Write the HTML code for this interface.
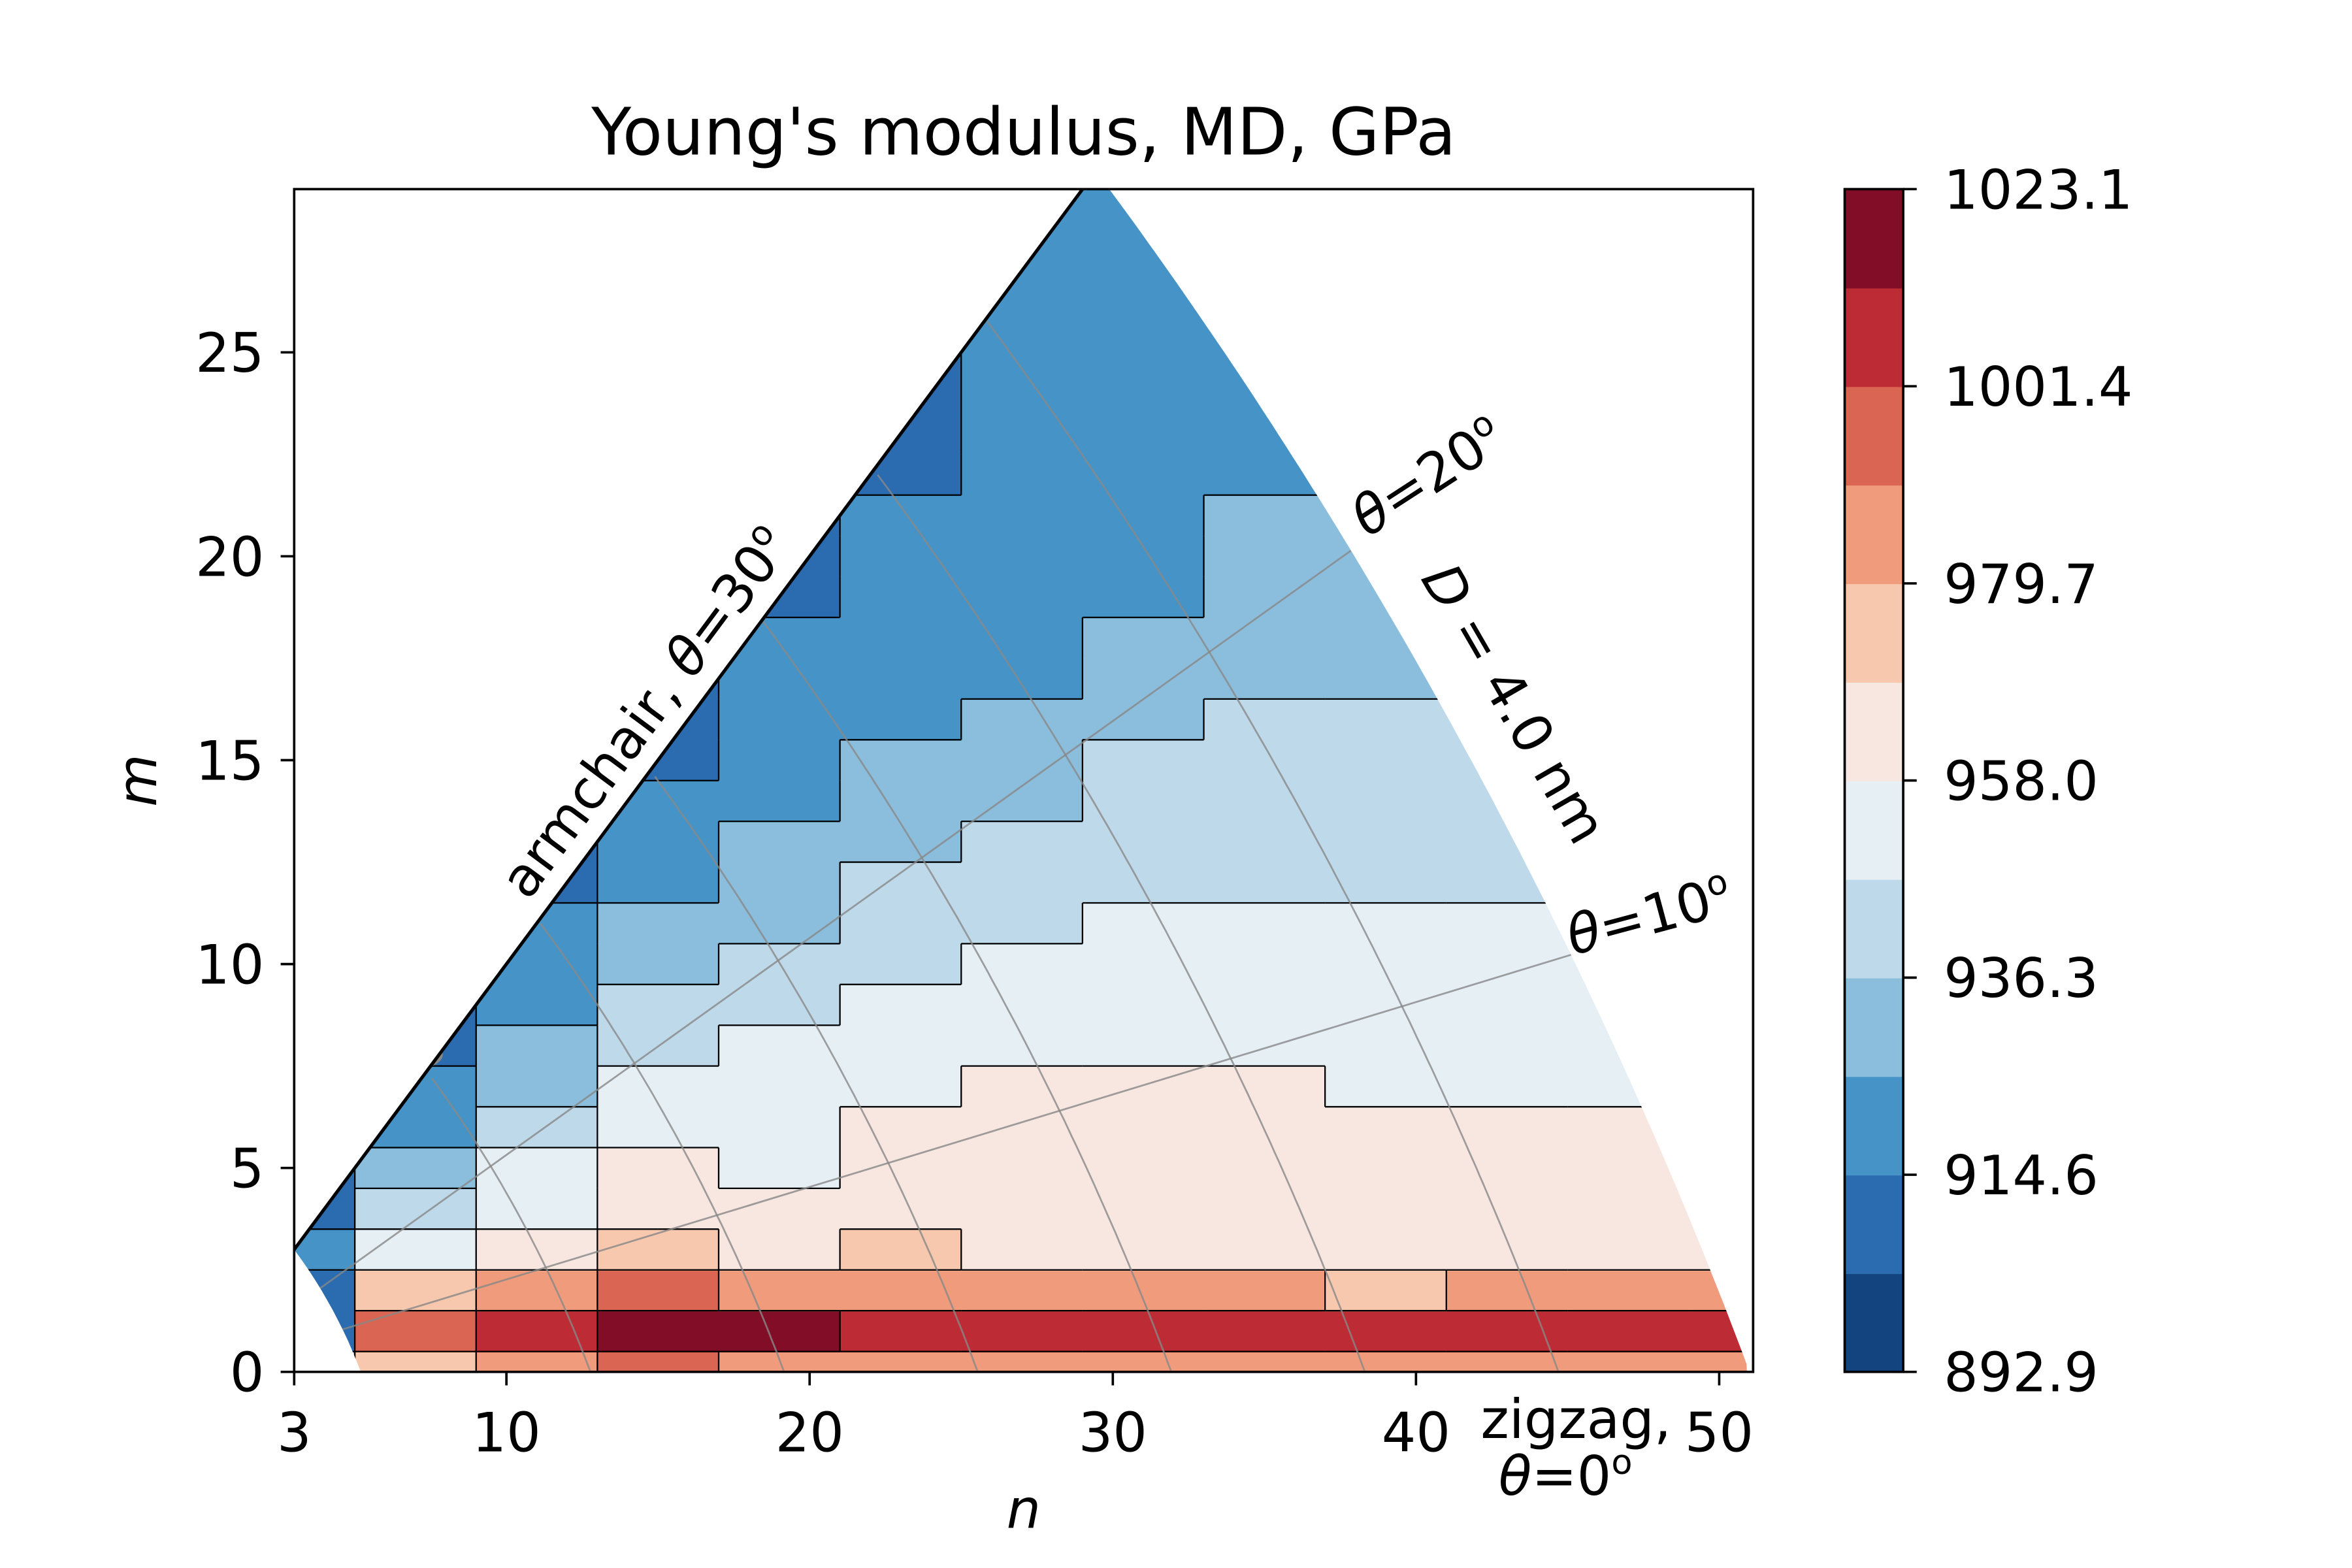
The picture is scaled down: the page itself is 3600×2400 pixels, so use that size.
<!DOCTYPE html>
<html><head><meta charset="utf-8"><style>
html,body{margin:0;padding:0;background:#fff;}
svg{display:block;font-family:"DejaVu Sans","Liberation Sans",sans-serif;}
</style></head><body>
<svg id="chart" width="3600" height="2400" viewBox="0 0 1567 1044.67" xmlns="http://www.w3.org/2000/svg">
<defs>
<clipPath id="plotclip"><rect x="196" y="126" width="972" height="788"/></clipPath>
<clipPath id="regionclip"><polygon id="regionpoly" points=""/></clipPath>
</defs>
<text x="682" y="103" text-anchor="middle" font-size="43.5" fill="#000">Young's modulus, MD, GPa</text>
<g clip-path="url(#plotclip)"><g id="cells" clip-path="url(#regionclip)"></g><g id="guides" clip-path="url(#regionclip)"></g>
<polyline id="armline" fill="none" stroke="#000" stroke-width="2.2"/></g>
<rect x="196" y="126" width="972" height="788" fill="none" stroke="#000" stroke-width="1.6"/>
<g id="xticks"></g>
<g id="yticks"></g>
<text x="682" y="1018" text-anchor="middle" font-size="36" font-style="italic">n</text>
<text transform="translate(104,520) rotate(-90)" text-anchor="middle" font-size="36" font-style="italic">m</text>
<text transform="translate(440,482) rotate(-53.4)" text-anchor="middle" font-size="36">armchair, <tspan font-style="italic">θ</tspan>=30<tspan font-size="23" dy="-14">o</tspan></text>
<text transform="translate(958,328) rotate(-33)" text-anchor="middle" font-size="36"><tspan font-style="italic">θ</tspan>=20<tspan font-size="23" dy="-14">o</tspan></text>
<text transform="translate(998,475) rotate(60)" text-anchor="middle" font-size="36"><tspan font-style="italic">D</tspan> = 4.0 nm</text>
<text transform="translate(1102,622) rotate(-15)" text-anchor="middle" font-size="36"><tspan font-style="italic">θ</tspan>=10<tspan font-size="23" dy="-14">o</tspan></text>
<text x="1050" y="958" text-anchor="middle" font-size="36">zigzag,</text>
<text x="1043" y="996" text-anchor="middle" font-size="36"><tspan font-style="italic">θ</tspan>=0<tspan font-size="23" dy="-14">o</tspan></text>
<g id="colorbar"></g>
</svg>
<script>
const levels=[892.9,903.75,914.6,925.45,936.3,947.15,958.0,968.85,979.7,990.55,1001.4,1012.25,1023.1];
const levelColors=["#134480","#2b6cb0","#4694c7","#8bbedc","#bed9e9","#e5eff4","#f8e7e0","#f8c8ae","#f09c7c","#da6553","#bd2c34","#820d26"];
const cbTicks=["892.9","914.6","936.3","958.0","979.7","1001.4","1023.1"];
const xTicks=[3,10,20,30,40,50];
const yTicks=[0,5,10,15,20,25];
const colN=[3,7,11,15,19,23,27,31,35,39,43,47,51];
const rowM=[0,1,2,3,4,5,6,7,8,9,10,11,12,13,14,15,16,17,18,19,20,21,22,23,24,25,26,27,28,29];
const grid=[
[930,975,985,995,990,985,985,985,985,985,980,980,980],
[905,998,1008,1015,1013,1008,1006,1012,1004,1010,1006,1008,1003],
[910,975,985,992,990,982,988,980,985,978,985,982,985],
[915,950,968,972,966,970,962,963,960,963,962,963,963],
[912,940,956,965,962,962,958,963,962,960,962,962,962],
[908,930,950,960,955,962,962,960,962,960,961,960,960],
[905,920,942,955,952,958,962,962,962,962,960,960,960],
[905,915,935,948,950,955,960,958,958,955,955,956,956],
[900,910,928,944,948,952,955,952,955,952,952,950,952],
[900,910,922,938,945,948,952,955,953,952,950,950,950],
[900,908,918,935,940,945,950,952,952,950,950,948,948],
[900,905,915,930,936,940,945,950,950,948,948,948,948],
[900,905,912,925,932,940,942,945,945,945,946,946,946],
[900,905,910,920,930,934,940,942,940,942,942,940,940],
[900,905,910,916,922,932,935,940,940,940,940,940,940],
[900,905,910,914,920,926,932,938,938,940,940,940,940],
[900,905,910,912,918,922,928,935,938,938,938,938,938],
[900,905,910,912,916,920,925,932,936,936,936,936,936],
[900,905,910,912,915,918,922,928,934,934,934,934,934],
[900,905,910,912,912,918,920,925,932,932,932,932,932],
[900,905,910,912,912,916,918,922,930,930,930,930,930],
[900,905,910,912,912,915,918,920,926,928,928,928,928],
[900,905,910,912,910,914,918,920,922,926,926,926,926],
[900,905,910,910,910,914,916,920,920,924,924,924,924],
[900,905,910,910,910,912,916,918,920,920,920,920,920],
[900,905,910,910,910,912,915,918,920,920,920,920,920],
[900,905,910,912,912,912,915,918,920,920,920,920,920],
[900,905,910,912,912,914,916,918,920,920,920,920,920],
[900,905,910,912,912,914,916,918,920,920,920,920,920],
[900,905,910,912,912,914,916,918,920,920,920,920,920]
];
const NS="http://www.w3.org/2000/svg";
const X=n=>196+(n-3)*20.2;
const Y=m=>914-m*27.17;
function mk(tag,attrs,parent){const e=document.createElementNS(NS,tag);for(const k in attrs)e.setAttribute(k,attrs[k]);parent.appendChild(e);return e;}
function lvl(v){let i=0;while(i<11&&v>=levels[i+1])i++;return i;}
const pts=[];
for(let m=0;m<=3.0001;m+=0.25){const n=(-m+Math.sqrt(m*m-4*(m*m-27)))/2;pts.push([n,m]);}
const apex=Math.sqrt(2601/3);
pts.push([apex,apex]);
for(let m=apex;m>=-0.001;m-=0.25){const n=(-m+Math.sqrt(m*m-4*(m*m-2601)))/2;pts.push([n,Math.max(m,0)]);}
pts.push([51,-1]);pts.push([5.2,-1]);
document.getElementById('regionpoly').setAttribute('points',pts.map(p=>X(p[0]).toFixed(1)+','+Y(p[1]).toFixed(1)).join(' '));
document.getElementById('armline').setAttribute('points',X(3)+','+Y(3)+' '+X(apex)+','+Y(apex));
const cells=document.getElementById('cells');
rowM.forEach((m,i)=>{colN.forEach((n,j)=>{
 const c=mk('rect',{x:X(n-2),y:Y(m+0.5),width:X(n+2)-X(n-2)+0.6,height:Y(m-0.5)-Y(m+0.5)+0.6,fill:levelColors[lvl(grid[i][j])]},cells);
 
 
});});
rowM.forEach((m,i)=>{colN.forEach((n,j)=>{
 const L=lvl(grid[i][j]);
 if(j+1<colN.length&&lvl(grid[i][j+1])!==L){const ln=mk('line',{x1:X(n+2),x2:X(n+2),y1:Y(m+0.5),y2:Y(m-0.5),stroke:'#000','stroke-width':1},cells);}
 if(i+1<rowM.length&&lvl(grid[i+1][j])!==L){const ln=mk('line',{x1:X(n-2),x2:X(n+2),y1:Y(m+0.5),y2:Y(m+0.5),stroke:'#000','stroke-width':1},cells);}
});});
const guides=document.getElementById('guides');
const diam=[1.0,1.5,2.0,2.5,3.0,3.5];
diam.forEach(D=>{const R=D/0.0783;const p=[];for(let m=0;m<=R;m+=0.2){const n=(-m+Math.sqrt(m*m-4*(m*m-R*R)))/2;if(n<m)break;p.push(X(n).toFixed(1)+','+Y(m).toFixed(1));}
 const pl=mk('polyline',{points:p.join(' '),fill:'none',stroke:'#888','stroke-width':1.2,opacity:0.8},guides);
 
 const mm=R*0.62,nn=(-mm+Math.sqrt(mm*mm-4*(mm*mm-R*R)))/2;
 const t=mk('text',{x:X(nn),y:Y(mm),'font-size':24,fill:'#888','text-anchor':'middle',transform:`rotate(60 ${X(nn)} ${Y(mm)})`},guides);t.textContent=D.toFixed(1);
 });
[[10,0.2267],[20,0.532]].forEach(a=>{const n2=51/Math.sqrt(1+a[1]+a[1]*a[1]);
 const ln=mk('line',{x1:X(0),y1:Y(0),x2:X(n2),y2:Y(n2*a[1]),stroke:'#888','stroke-width':1.2,opacity:0.8},guides);
 });
const xt=document.getElementById('xticks');
xTicks.forEach(v=>{mk('line',{x1:X(v),x2:X(v),y1:914,y2:923,stroke:'#000','stroke-width':1.6},xt);const t=mk('text',{x:X(v),y:967,'text-anchor':'middle','font-size':36},xt);t.textContent=v;});
const yt=document.getElementById('yticks');
yTicks.forEach(v=>{mk('line',{x1:187,x2:196,y1:Y(v),y2:Y(v),stroke:'#000','stroke-width':1.6},yt);const t=mk('text',{x:176,y:Y(v)+13,'text-anchor':'end','font-size':36},yt);t.textContent=v;});
const cb=document.getElementById('colorbar');
const cbY=v=>914-(v-892.9)/(1023.1-892.9)*788;
levelColors.forEach((c,i)=>{const r=mk('rect',{x:1229,y:cbY(levels[i+1]),width:39,height:cbY(levels[i])-cbY(levels[i+1])+0.5,fill:c},cb);});
mk('rect',{x:1229,y:126,width:39,height:788,fill:'none',stroke:'#000','stroke-width':1.6},cb);
cbTicks.forEach(s=>{const y=cbY(parseFloat(s));mk('line',{x1:1268,x2:1277,y1:y,y2:y,stroke:'#000','stroke-width':1.6},cb);const t=mk('text',{x:1295,y:y+13,'font-size':36},cb);t.textContent=s;});
</script>
</body></html>
